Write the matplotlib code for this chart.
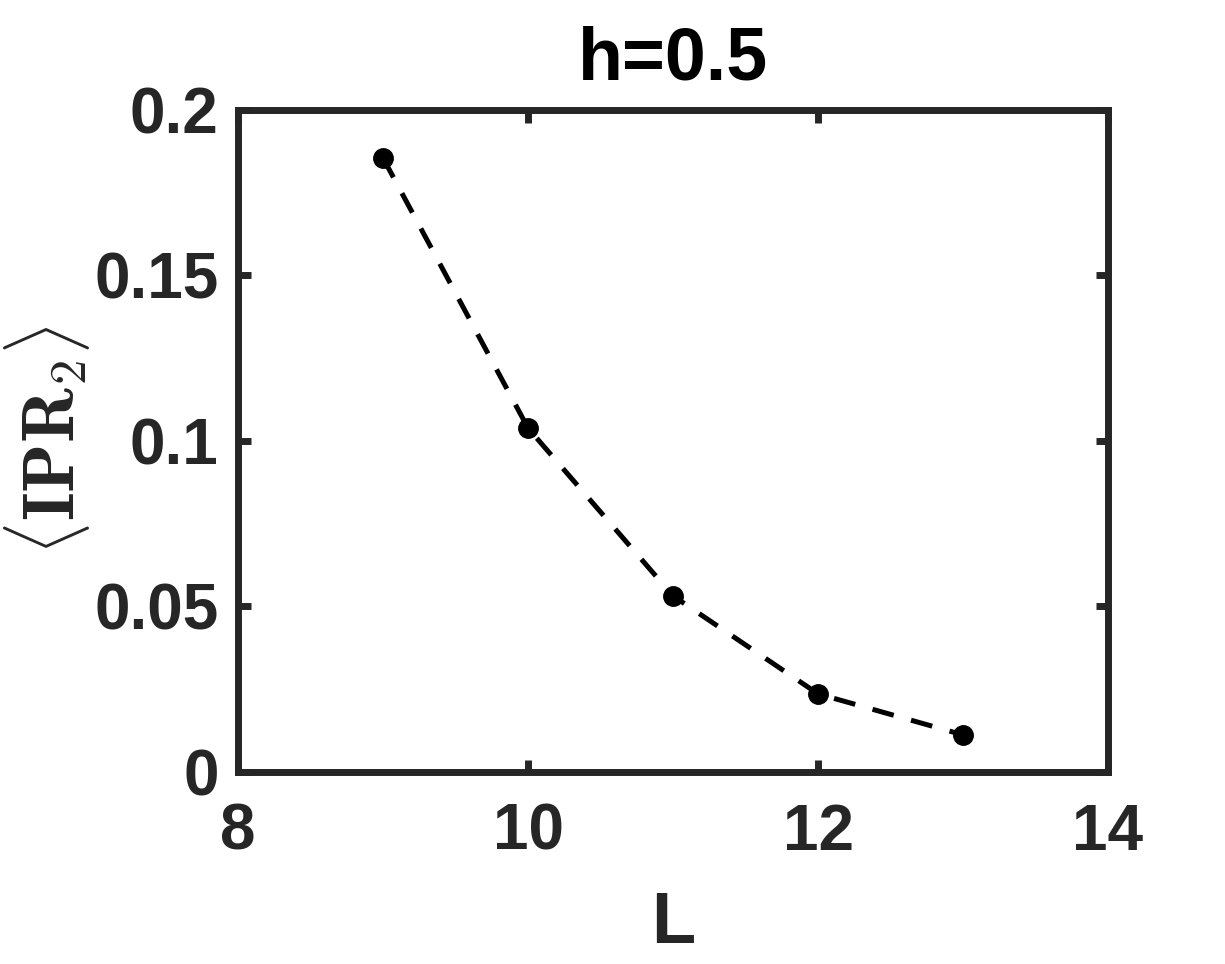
import matplotlib.pyplot as plt

plt.rcParams['figure.facecolor'] = 'white'
plt.rcParams['axes.facecolor'] = 'white'
plt.rcParams['font.family'] = ['Liberation Sans', 'DejaVu Sans']
plt.rcParams['mathtext.fontset'] = 'cm'

L = [9, 10, 11, 12, 13]
ipr = [0.1855, 0.1039, 0.0532, 0.0236, 0.0112]

frame = '#262626'

fig = plt.figure(figsize=(12.25, 9.64), dpi=100)
ax = fig.add_axes([0.1943, 0.1992, 0.7102, 0.6867])

ax.plot(L, ipr, color='black', linestyle=(0, (4.4, 3.6)), linewidth=3.6,
        marker='o', markersize=14)

ax.set_xlim(8, 14)
ax.set_ylim(0, 0.2)
ax.set_xticks([8, 10, 12, 14])
ax.set_yticks([0, 0.05, 0.1, 0.15, 0.2])
ax.set_yticklabels(['0', '0.05', '0.1', '0.15', '0.2'])

for s in ax.spines.values():
    s.set_linewidth(5)
    s.set_color(frame)

ax.tick_params(direction='in', length=9, width=5, color=frame,
               top=True, right=True, labelsize=46, labelcolor=frame)
ax.tick_params(axis='x', pad=22)
ax.tick_params(axis='y', pad=14)
for lab in ax.get_xticklabels() + ax.get_yticklabels():
    lab.set_fontweight('bold')

ax.set_xlabel('L', fontsize=52, fontweight='bold', color=frame, labelpad=20)
ax.set_ylabel(r'$\langle\mathbf{IPR}_{\mathbf{2}}\rangle$', fontsize=52, color=frame, labelpad=2)
ax.set_title('h=0.5', fontsize=53, fontweight='bold', color='black', pad=22)

fig.savefig('out.png', dpi=100)
